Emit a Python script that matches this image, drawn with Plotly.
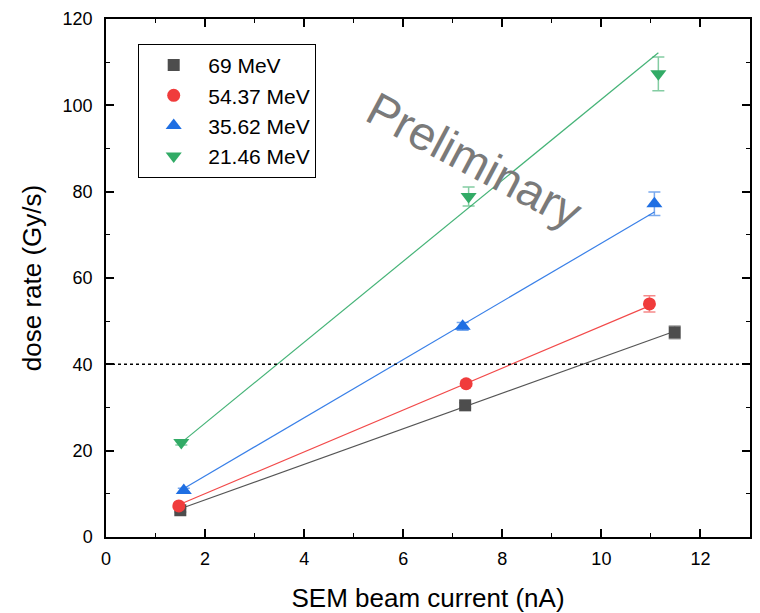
import plotly.graph_objects as go
import numpy as np

# Measured dose rate vs SEM beam current for four proton energies
energies = ["69 MeV", "54.37 MeV", "35.62 MeV", "21.46 MeV"]

current_69 = [1.50, 7.25, 11.48]
dose_69 = [6.2, 30.5, 47.4]
err_69 = [0.4, 0.6, 1.5]

current_54 = [1.47, 7.27, 10.97]
dose_54 = [7.2, 35.5, 54.0]
err_54 = [0.4, 0.6, 1.9]

current_35 = [1.57, 7.20, 11.07]
dose_35 = [10.8, 48.8, 77.2]
err_35 = [0.5, 0.9, 2.7]

current_21 = [1.52, 7.32, 11.15]
dose_21 = [21.9, 78.9, 107.3]
err_21 = [0.6, 2.2, 3.9]

# Linear fit parameters (slope in Gy/s per nA, intercept in Gy/s)
fit_slope = [4.12, 4.85, 6.74, 9.38]
fit_intercept = [0.36, 0.33, 0.66, 7.6]

threshold = 40

marker_colors = ["#4d4d4d", "#f03c3c", "#1f6fe3", "#32ab66"]
line_colors = ["#555555", "#f24a4a", "#3a80e8", "#45b377"]
error_colors = ["rgba(77,77,77,0.55)", "rgba(240,60,60,0.6)",
                "rgba(31,111,227,0.6)", "rgba(50,171,102,0.6)"]
symbols = ["square", "circle", "triangle-up", "triangle-down"]
sizes = [12, 13, 14, 14]

currents = [current_69, current_54, current_35, current_21]
doses = [dose_69, dose_54, dose_35, dose_21]
errors = [err_69, err_54, err_35, err_21]

FONT = "Liberation Sans, Arial"

fig = go.Figure()

# fit lines underneath the markers
for i in range(4):
    xs = np.array([min(currents[i]), max(currents[i])])
    ys = fit_slope[i] * xs + fit_intercept[i]
    fig.add_trace(go.Scatter(
        x=xs, y=ys, mode="lines",
        line=dict(color=line_colors[i], width=1.2),
        showlegend=False, hoverinfo="skip",
    ))

for i in range(4):
    fig.add_trace(go.Scatter(
        x=currents[i], y=doses[i], mode="markers", name=energies[i],
        marker=dict(symbol=symbols[i], size=sizes[i], color=marker_colors[i],
                    line=dict(width=0)),
        error_y=dict(type="data", array=errors[i], color=error_colors[i],
                     thickness=1.5, width=6),
    ))

fig.add_shape(type="line", xref="paper", yref="y", x0=0, x1=1,
              y0=threshold, y1=threshold,
              line=dict(color="black", width=1.5, dash="dot"))

fig.add_annotation(x=7.45, y=87.3, xref="x", yref="y", text="Preliminary",
                   showarrow=False, textangle=28,
                   font=dict(family=FONT, size=47, color="#7a7a7a"))

axis_common = dict(
    showline=True, linecolor="black", linewidth=1.5, mirror="allticks",
    ticks="inside", ticklen=8, tickwidth=1.5, tickcolor="black",
    showgrid=False, zeroline=False, automargin=False,
    tickfont=dict(family=FONT, size=18, color="black"),
)

fig.update_xaxes(
    range=[0, 13], dtick=2, tick0=0, ticklabelstandoff=5,
    minor=dict(ticks="inside", ticklen=4, dtick=1, tickwidth=1.2, tickcolor="black"),
    title=dict(text="SEM beam current (nA)", standoff=20,
               font=dict(family=FONT, size=26, color="black")),
    **axis_common,
)
fig.update_yaxes(
    range=[0, 120], dtick=20, tick0=0, ticklabelstandoff=8,
    minor=dict(ticks="inside", ticklen=4, dtick=10, tickwidth=1.2, tickcolor="black"),
    title=dict(text="dose rate (Gy/s)", standoff=14,
               font=dict(family=FONT, size=26, color="black")),
    **axis_common,
)

fig.update_layout(
    width=760, height=613,
    margin=dict(l=106, r=10, t=19, b=76),
    plot_bgcolor="white", paper_bgcolor="white",
    legend=dict(x=0.05, y=0.952, xanchor="left", yanchor="top",
                bordercolor="black", borderwidth=1, bgcolor="white",
                font=dict(family=FONT, size=21, color="black"),
                itemwidth=59, tracegroupgap=0),
)

fig.write_html("out.html")
